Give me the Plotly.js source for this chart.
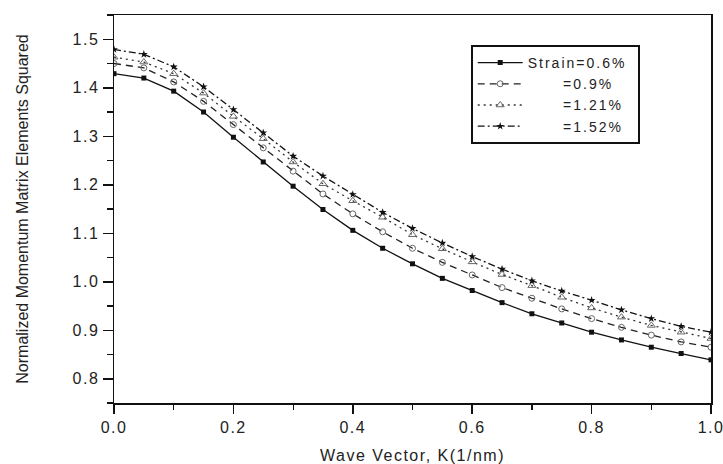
<!DOCTYPE html>
<html>
<head>
<meta charset="utf-8">
<script src="https://cdn.plot.ly/plotly-3.0.1.min.js"></script>
<style>
  html, body { margin: 0; padding: 0; background: #fff; }
  #chart { width: 723px; height: 464px; }
  .xtick text, .ytick text, .g-xtitle text { letter-spacing: 1.5px; }
  .legendtext { letter-spacing: 2px; }
</style>
</head>
<body>
<div id="chart"></div>
<script>
// Wave vector K (1/nm)
const kVals = [0.00, 0.05, 0.10, 0.15, 0.20, 0.25, 0.30, 0.35, 0.40, 0.45, 0.50,
               0.55, 0.60, 0.65, 0.70, 0.75, 0.80, 0.85, 0.90, 0.95, 1.00];

// Normalized momentum matrix elements squared
const strain06 = [1.429, 1.420, 1.393, 1.350, 1.298, 1.247, 1.197, 1.149, 1.106, 1.069, 1.037,
                  1.007, 0.982, 0.957, 0.934, 0.915, 0.896, 0.880, 0.865, 0.852, 0.839];
const strain09 = [1.450, 1.441, 1.412, 1.372, 1.324, 1.276, 1.228, 1.181, 1.140, 1.103, 1.069,
                  1.040, 1.014, 0.988, 0.966, 0.944, 0.924, 0.906, 0.890, 0.876, 0.865];
const strain121 = [1.463, 1.453, 1.429, 1.389, 1.341, 1.295, 1.247, 1.202, 1.167, 1.133, 1.097,
                   1.068, 1.041, 1.015, 0.992, 0.968, 0.946, 0.927, 0.910, 0.896, 0.883];
const strain152 = [1.479, 1.469, 1.443, 1.402, 1.355, 1.307, 1.259, 1.218, 1.180, 1.143, 1.110,
                   1.080, 1.052, 1.026, 1.002, 0.981, 0.962, 0.942, 0.924, 0.908, 0.896];

const pad = '\u00A0\u00A0\u00A0\u00A0\u00A0\u00A0';
const seriesNames = ['Strain=0.6%\u00A0', pad + '=0.9%', pad + '=1.21%', pad + '=1.52%'];

const fontFam = '"Liberation Sans", Arial, sans-serif';

const traces = [
  { x: kVals, y: strain06, name: seriesNames[0], mode: 'lines+markers',
    line: { color: '#111', width: 1.3, dash: 'solid' },
    marker: { symbol: 'square', size: 5, color: '#111' } },
  { x: kVals, y: strain09, name: seriesNames[1], mode: 'lines+markers',
    line: { color: '#222', width: 1.3, dash: '7px,5px' },
    marker: { symbol: 'circle-open', size: 6, color: '#666', line: { width: 1, color: '#666' } } },
  { x: kVals, y: strain121, name: seriesNames[2], mode: 'lines+markers',
    line: { color: '#333', width: 1.3, dash: '2px,4px' },
    marker: { symbol: 'triangle-up-open', size: 7, color: '#666', line: { width: 1, color: '#666' } } },
  { x: kVals, y: strain152, name: seriesNames[3], mode: 'lines+markers',
    line: { color: '#111', width: 1.3, dash: '7px,3px,2px,3px' },
    marker: { symbol: 'star', size: 6, color: '#111' } }
];

const layout = {
  width: 723, height: 464,
  margin: { l: 114, r: 12, t: 15, b: 61 },
  paper_bgcolor: '#fff', plot_bgcolor: '#fff',
  font: { family: fontFam, size: 16, color: '#222' },
  showlegend: true,
  legend: {
    x: 0.5975, y: 0.9227, xanchor: 'left', yanchor: 'top',
    bordercolor: '#111', borderwidth: 2, bgcolor: '#fff',
    font: { family: fontFam, size: 14, color: '#222' },
    tracegroupgap: 0, itemwidth: 45
  },
  xaxis: {
    range: [0, 1], dtick: 0.2, tick0: 0, tickformat: '.1f',
    ticks: 'outside', ticklen: 9, tickwidth: 1.5, tickcolor: '#111',
    minor: { dtick: 0.1, ticks: 'outside', ticklen: 5, tickwidth: 1.2, tickcolor: '#111' },
    showline: true, linecolor: '#111', linewidth: 1.5, mirror: true,
    showgrid: false, zeroline: false, ticklabeloverflow: 'allow',
    tickfont: { family: fontFam, size: 16, color: '#222' },
    title: { text: 'Wave Vector, K(1/nm)', font: { family: fontFam, size: 16, color: '#222' }, standoff: 16 }
  },
  yaxis: {
    range: [0.75, 1.55], dtick: 0.1, tick0: 0, tickformat: '.1f',
    ticks: 'outside', ticklen: 10, tickwidth: 1.5, tickcolor: '#111',
    minor: { dtick: 0.05, ticks: 'outside', ticklen: 6, tickwidth: 1.2, tickcolor: '#111' },
    showline: true, linecolor: '#111', linewidth: 1.5, mirror: true,
    showgrid: false, zeroline: false, ticklabeloverflow: 'allow',
    tickfont: { family: fontFam, size: 16, color: '#222' },
    title: { text: 'Normalized Momentum Matrix Elements Squared', font: { family: fontFam, size: 16, color: '#222' }, standoff: 40 }
  }
};

Plotly.newPlot('chart', traces, layout, { displayModeBar: false, staticPlot: true });
</script>
</body>
</html>
